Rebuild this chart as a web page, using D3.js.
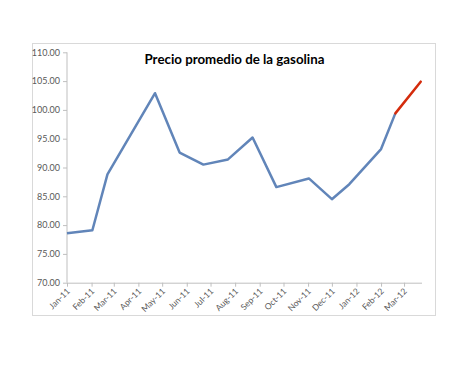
<!DOCTYPE html>
<html>
<head>
<meta charset="utf-8">
<script src="https://cdn.jsdelivr.net/npm/d3@7"></script>
<style>
  html, body { margin: 0; padding: 0; background: #fff; }
  svg { display: block; }
</style>
</head>
<body>
<svg id="chart" width="474" height="366"></svg>
<script>
// ---- data ----
const titleText = "Precio promedio de la gasolina";
const dates = ["2011-01-01","2011-02-02","2011-02-21","2011-04-22","2011-05-23","2011-06-22",
               "2011-07-23","2011-08-23","2011-09-22","2011-11-02","2011-12-01","2011-12-23",
               "2012-02-01","2012-02-19"];
const prices = [78.6, 79.1, 88.8, 102.9, 92.6, 90.5, 91.4, 95.2, 86.6, 88.1, 84.5, 87.1, 93.2, 99.4];
const projDates = ["2012-02-19","2012-03-22"];
const projPrices = [99.4, 104.9];
const monthTicks = ["2011-01-01","2011-02-01","2011-03-01","2011-04-01","2011-05-01","2011-06-01",
                    "2011-07-01","2011-08-01","2011-09-01","2011-10-01","2011-11-01","2011-12-01",
                    "2012-01-01","2012-02-01","2012-03-01"];
const yTicks = [70, 75, 80, 85, 90, 95, 100, 105, 110];

// ---- setup ----
const parse = d3.timeParse("%Y-%m-%d");
const fmtMonth = d3.timeFormat("%b-%y");
const svg = d3.select("#chart");

// chart border
svg.append("rect").attr("x", 32.5).attr("y", 43.5).attr("width", 403).attr("height", 272)
  .attr("fill", "#fff").attr("stroke", "#d9d9d9").attr("stroke-width", 1);

const x = d3.scaleTime()
  .domain([parse("2011-01-01"), parse("2012-03-23")])
  .range([67, 421.5]);
const y = d3.scaleLinear().domain([70, 110]).range([282.7, 52.3]);

const font = "Lato, 'Open Sans', sans-serif";

// y axis
const yAxis = d3.axisLeft(y).tickValues(yTicks).tickFormat(d3.format(".2f")).tickSize(4).tickPadding(3);
const gy = svg.append("g").attr("transform", "translate(67,0)").call(yAxis);
gy.select(".domain").attr("stroke", "#bfbfbf").attr("d", `M0,${y(110)}V${y(70)}`);
gy.selectAll(".tick line").attr("stroke", "#bfbfbf");
gy.selectAll(".tick text").attr("fill", "#595959").style("font-family", font).style("font-size", "9px");

// x axis
const xAxis = d3.axisBottom(x).tickValues(monthTicks.map(parse)).tickFormat(fmtMonth).tickSize(4).tickSizeOuter(0);
const gx = svg.append("g").attr("transform", `translate(0,${y(70)})`).call(xAxis);
gx.select(".domain").attr("stroke", "#bfbfbf");
gx.selectAll(".tick line").attr("stroke", "#bfbfbf");
gx.selectAll(".tick text")
  .attr("fill", "#595959")
  .style("font-family", font).style("font-size", "8.5px")
  .attr("text-anchor", "end")
  .attr("dy", null)
  .attr("y", 0)
  .attr("transform", "translate(3,9) rotate(-45)");

// lines
const line = d3.line().x(d => x(d.date)).y(d => y(d.v));
const main = dates.map((d, i) => ({date: parse(d), v: prices[i]}));
const proj = projDates.map((d, i) => ({date: parse(d), v: projPrices[i]}));

svg.append("path").datum(main).attr("d", line)
  .attr("fill", "none").attr("stroke", "#6185b9").attr("stroke-width", 2.5)
  .attr("stroke-linejoin", "round");
svg.append("path").datum(proj).attr("d", line)
  .attr("fill", "none").attr("stroke", "#d42b0c").attr("stroke-width", 2.5)
  .attr("stroke-linecap", "round");

// title
const t = svg.append("text").attr("x", 234.5).attr("y", 63.5).attr("text-anchor", "middle")
  .style("font-family", font).style("font-weight", "bold").style("font-size", "14px")
  .attr("fill", "#000").text(titleText);
const w = t.node().getComputedTextLength();
t.style("font-size", (14 * 180 / w).toFixed(2) + "px");
</script>
</body>
</html>
